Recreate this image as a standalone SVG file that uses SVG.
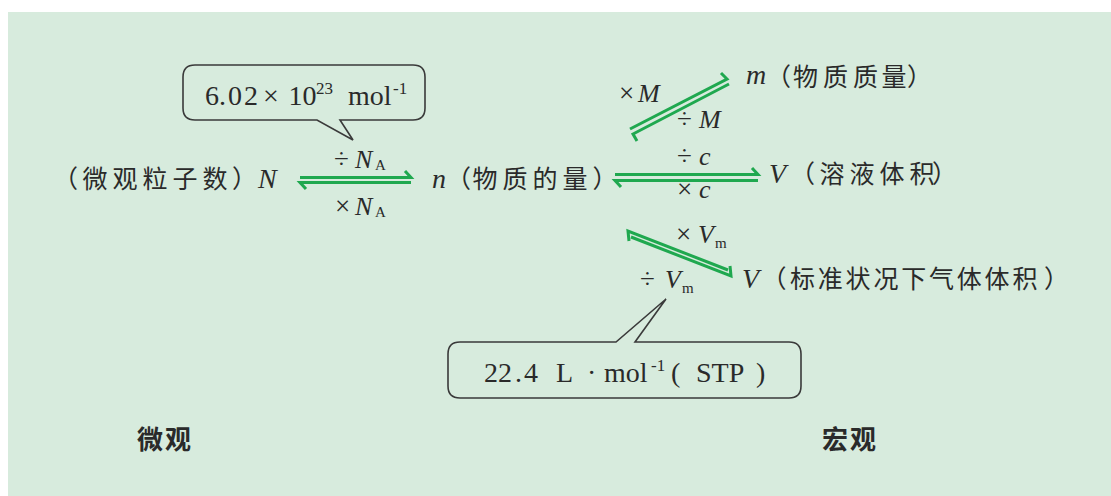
<svg xmlns="http://www.w3.org/2000/svg" width="1111" height="496" viewBox="0 0 1111 496">
<defs>
<style>
.bg{fill:#d7ebdd}
.cj{font-family:"Noto Sans CJK SC","Noto Sans CJK JP",sans-serif;font-size:25px;fill:#2a2a2a}
.it{font-family:"Liberation Serif","Times New Roman",serif;font-style:italic;font-size:28px;fill:#2a2a2a}
.lit{font-family:"Liberation Serif","Times New Roman",serif;font-style:italic;font-size:26px;fill:#2a2a2a}
.rm{font-family:"Liberation Serif","Times New Roman",serif;font-size:27px;fill:#2a2a2a}
.sub{font-family:"Liberation Serif","Times New Roman",serif;font-size:15px;fill:#2a2a2a}
.big{font-family:"Liberation Serif","Times New Roman",serif;font-size:28px;fill:#2a2a2a}
.sup{font-size:17px}
.hd{font-family:"Noto Sans CJK SC",sans-serif;font-size:26px;font-weight:700;fill:#2a2a2a;letter-spacing:2px}
.arr{fill:none;stroke:#1fa84f;stroke-width:3;stroke-linejoin:miter;stroke-linecap:butt}
.call{fill:#d7ebdd;stroke:#3a3a3a;stroke-width:1.6}
</style>
</defs>
<rect class="bg" x="8" y="12" width="1103" height="484"/>

<g id="connectors">
  <!-- N <-> n -->
  <path class="arr" d="M300,177.5 L411,177.5 L405,171"/>
  <path class="arr" d="M411,182.5 L300,182.5 L306,189"/>
  <!-- n <-> V solution -->
  <path class="arr" d="M615,174.5 L758,174.5 L752,168"/>
  <path class="arr" d="M758,180.5 L615,180.5 L621,187"/>
  <!-- n <-> m -->
  <path class="arr" d="M630,129 L727,79 L721,73"/>
  <path class="arr" d="M729,84 L633,134 L637,141"/>
  <!-- n <-> V gas -->
  <path class="arr" d="M728,270 L628,231 L629,241"/>
  <path class="arr" d="M631,237 L731,276 L730,266"/>
</g>

<g id="node-N">
  <text class="cj" x="53 82.5 112.5 142.5 172.5 202.5 232" y="188">（微观粒子数）</text>
  <text class="it" x="258" y="188">N</text>
</g>

<g id="node-n">
  <text class="it" x="432" y="188">n</text>
  <text class="cj" x="446 472.5 502.5 532.5 562.5 592.5" y="188">（物质的量）</text>
</g>

<g id="node-m">
  <text class="it" x="746" y="84">m</text>
  <text class="cj" x="766 793 823 853 881.5 907" y="86">（物质质量）</text>
</g>

<g id="node-Vsol">
  <text class="it" x="769" y="183">V</text>
  <text class="cj" x="790 819.5 849.5 879.5 909.5 932" y="183">（溶液体积）</text>
</g>

<g id="node-Vgas">
  <text class="it" x="742" y="288">V</text>
  <text class="cj" x="761.5 790 817.8 845.6 873.4 901.2 929 956.8 984.6 1012.4 1044" y="288">（标准状况下气体体积）</text>
</g>

<g id="labels">
  <text y="168"><tspan class="rm" x="334">÷</tspan><tspan class="lit" x="355">N</tspan><tspan class="sub" x="375" dy="2">A</tspan></text>
  <text y="215"><tspan class="rm" x="335">×</tspan><tspan class="lit" x="355">N</tspan><tspan class="sub" x="375" dy="2">A</tspan></text>
  <text y="102"><tspan class="rm" x="619">×</tspan><tspan class="lit" x="638">M</tspan></text>
  <text y="128"><tspan class="rm" x="677">÷</tspan><tspan class="lit" x="699">M</tspan></text>
  <text y="165"><tspan class="rm" x="677">÷</tspan><tspan class="lit" x="699">c</tspan></text>
  <text y="198"><tspan class="rm" x="677">×</tspan><tspan class="lit" x="699">c</tspan></text>
  <text y="243"><tspan class="rm" x="676">×</tspan><tspan class="lit" x="698">V</tspan><tspan class="sub" x="715" dy="5">m</tspan></text>
  <text y="288"><tspan class="rm" x="640">÷</tspan><tspan class="lit" x="665">V</tspan><tspan class="sub" x="682" dy="5">m</tspan></text>
</g>

<g id="callout-NA">
  <path class="call" d="M195,65 H413 Q425,65 425,77 V108 Q425,120 413,120 H340 L353,140 L317,120 H195 Q183,120 183,108 V77 Q183,65 195,65 Z"/>
  <text class="big" y="105"><tspan x="205">6</tspan><tspan x="219">.</tspan><tspan x="228">0</tspan><tspan x="244">2</tspan><tspan x="263">×</tspan><tspan x="288.5">10</tspan><tspan class="sup" x="316" dy="-11">23</tspan><tspan x="348" dy="11">mol</tspan><tspan class="sup" x="393" dy="-11">-1</tspan></text>
</g>

<g id="callout-Vm">
  <path class="call" d="M460,342 H616 L666,299 L635,342 H789 Q801,342 801,354 V386 Q801,398 789,398 H460 Q448,398 448,386 V354 Q448,342 460,342 Z"/>
  <text class="big" y="382"><tspan x="484">22</tspan><tspan x="515">.</tspan><tspan x="524">4</tspan><tspan x="556">L</tspan><tspan x="587">·</tspan><tspan x="604">mol</tspan><tspan class="sup" x="651" dy="-11">-1</tspan><tspan x="671" dy="11">(</tspan><tspan x="696">STP</tspan><tspan x="756">)</tspan></text>
</g>

<g id="headings">
  <text class="hd" x="137" y="449">微观</text>
  <text class="hd" x="822" y="449">宏观</text>
</g>
</svg>
